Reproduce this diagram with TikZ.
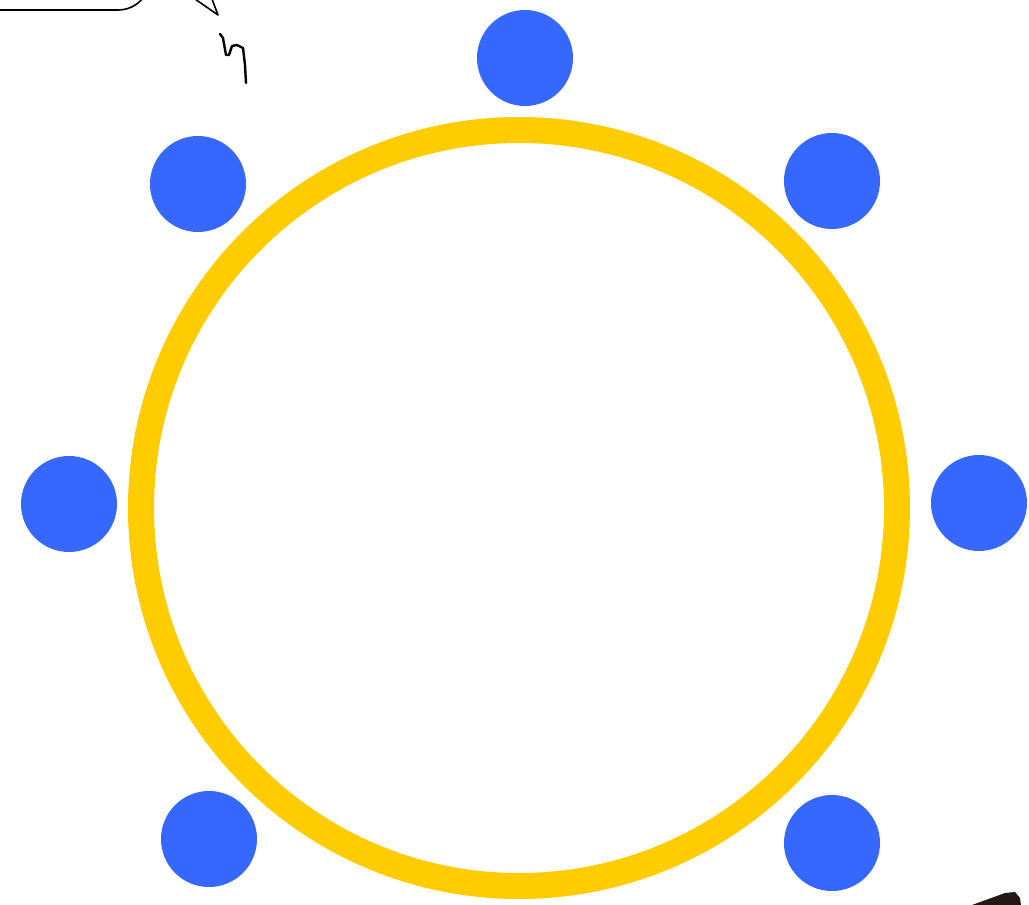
\documentclass[tikz,border=0pt]{standalone}
\begin{document}
\begin{tikzpicture}[x=1pt,y=-1pt,
  dot/.style={circle,fill=dotblue,draw=none,minimum size=96pt,inner sep=0pt},
  ink/.style={draw=black,line width=2pt,line cap=round,line join=round}]
\definecolor{dotblue}{HTML}{3668FF}
\definecolor{ringyellow}{HTML}{FFCC00}
\definecolor{darkblob}{HTML}{231815}
\useasboundingbox (0,0) rectangle (1029,905);
\clip (0,0) rectangle (1029,905);
\node[circle,draw=ringyellow,line width=26pt,minimum size=756pt,inner sep=0pt] (ring) at (519,508) {};
\node[dot] (d1) at (525,58) {};
\node[dot] (d2) at (832,181) {};
\node[dot] (d3) at (198,184) {};
\node[dot] (d4) at (69,504) {};
\node[dot] (d5) at (979,503) {};
\node[dot] (d6) at (209,839) {};
\node[dot] (d7) at (832,843) {};
% speech bubble fragment
\draw[ink,line width=1.6pt,rounded corners=32pt] (-60,-80) rectangle (150,10);
\draw[ink,line width=1.6pt] (195,-1) -- (218,15) -- (212,-1);
% squiggle
\draw[ink,line width=2.4pt] (220,34) -- (223,38) -- (226,55) -- (229,55) -- (232,46) -- (237,45) -- (243,48) -- (245,65) -- (246,83);
% dark blob at bottom right
\fill[darkblob] (972,905) -- (1005,893) -- (1015,892) -- (1020,898) -- (1021,905) -- cycle;
\end{tikzpicture}
\end{document}
